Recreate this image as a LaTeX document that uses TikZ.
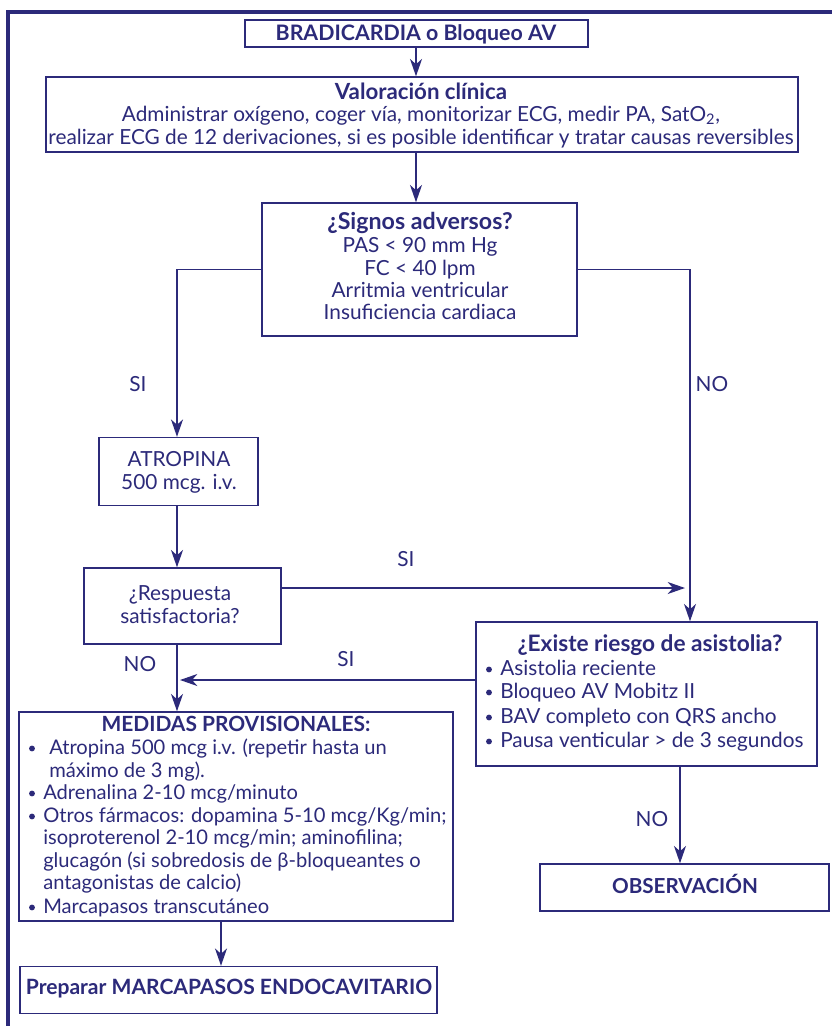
\documentclass[tikz,border=0pt]{standalone}
\usepackage{fontspec}
\setmainfont{Lato}
\usetikzlibrary{arrows.meta}
\definecolor{navy}{RGB}{44,42,122}
\begin{document}
\begin{tikzpicture}[x=0.75pt,y=-0.75pt,
  box/.style={draw=navy,line width=1.1pt,inner sep=0pt},
  conn/.style={draw=navy,line width=1.3pt,-{Stealth[length=13pt,width=9pt,inset=4pt]}},
  bullet/.style={fill=navy},
  txt/.style={text=navy,inner sep=0pt,anchor=base,font=\fontsize{15.6}{18}\selectfont},
  vtxt/.style={text=navy,inner sep=0pt,anchor=base,font=\fontsize{15.6}{18}\selectfont},
  btxt/.style={text=navy,inner sep=0pt,anchor=base,font=\fontsize{#1}{18}\selectfont\bfseries},
  ltxt/.style={text=navy,inner sep=0pt,anchor=base west,font=\fontsize{15.6}{18}\selectfont},
  mtxt/.style={text=navy,inner sep=0pt,anchor=base west,font=\fontsize{15.1}{18}\selectfont}]
\useasboundingbox (0,0) rectangle (832,1026);
\fill[white] (0,0) rectangle (832,1026);
% frame
\draw[navy,line width=2.3pt] (8,1030) -- (8,12) -- (836,12);
% boxes
\node[box,minimum width=257.25pt,minimum height=20.25pt] (brad) at (416.5,33.5) {};
\node[box,minimum width=564pt,minimum height=56.25pt] (val) at (422,114.5) {};
\node[box,minimum width=236.25pt,minimum height=99.75pt] (sig) at (419.5,269.5) {};
\node[box,minimum width=119.25pt,minimum height=51pt] (atr) at (178.5,471.5) {};
\node[box,minimum width=147.75pt,minimum height=57pt] (resp) at (182.5,606) {};
\node[box,minimum width=255.75pt,minimum height=108pt] (exi) at (646.5,694) {};
\node[box,minimum width=325.5pt,minimum height=156.75pt] (med) at (236,816.5) {};
\node[box,minimum width=312.75pt,minimum height=35.25pt] (prep) at (228.5,990) {};
\node[box,minimum width=216.75pt,minimum height=35.25pt] (obs) at (684.5,887.5) {};
% texts (y = baseline)
\node[btxt=16] (tbrad) at (416,40) {BRADICARDIA o Bloqueo AV};
\node[btxt=16.7] (tval1) at (421,99) {Valoración clínica};
\node[vtxt] (tval2) at (421,121) {Administrar oxígeno, coger vía, monitorizar ECG, medir PA, SatO\textsubscript{2},};
\node[vtxt] (tval3) at (421,144) {realizar ECG de 12 derivaciones, si es posible identificar y tratar causas reversibles};
\node[btxt=17.4] (tsig1) at (420,229) {¿Signos adversos?};
\node[txt] (tsig2) at (420,252) {PAS < 90 mm Hg};
\node[txt] (tsig3) at (420,275) {FC < 40 lpm};
\node[txt] (tsig4) at (420,297) {Arritmia ventricular};
\node[txt] (tsig5) at (420,319) {Insuficiencia cardiaca};
\node[txt] (tatr1) at (179,466) {ATROPINA};
\node[txt] (tatr2) at (179,489) {500 mcg. i.v.};
\node[txt] (tresp1) at (180,600) {¿Respuesta};
\node[txt] (tresp2) at (180,623) {satisfactoria?};
\node[btxt=17] (texi0) at (650,651) {¿Existe riesgo de asistolia?};
\node[ltxt] (texi1) at (500,675) {Asistolia reciente};
\node[ltxt] (texi2) at (500,698) {Bloqueo AV Mobitz II};
\node[ltxt] (texi3) at (500,723) {BAV completo con QRS ancho};
\node[ltxt] (texi4) at (500,747) {Pausa venticular > de 3 segundos};
\foreach \y in {675,698,723,747} \fill[bullet] (489,\y-5.5) circle (2.2pt);
\node[btxt=15.7] (tmed0) at (236,731) {MEDIDAS PROVISIONALES:};
\node[mtxt] (tmed1) at (49,754) {Atropina 500 mcg i.v. (repetir hasta un};
\node[mtxt] (tmed1b) at (49,777) {máximo de 3 mg).};
\node[mtxt] (tmed2) at (43,799) {Adrenalina 2-10 mcg/minuto};
\node[mtxt] (tmed3) at (43,822) {Otros fármacos: dopamina 5-10 mcg/Kg/min;};
\node[mtxt] (tmed3b) at (43,844) {isoproterenol 2-10 mcg/min; aminofilina;};
\node[mtxt] (tmed3c) at (43,867) {glucagón (si sobredosis de β-bloqueantes o};
\node[mtxt] (tmed3d) at (43,889) {antagonistas de calcio)};
\node[mtxt] (tmed4) at (43,913) {Marcapasos transcutáneo};
\foreach \y in {754,799,822,913} \fill[bullet] (32,\y-5.5) circle (2.2pt);
\node[btxt=15.8] (tprep) at (229,994) {Preparar MARCAPASOS ENDOCAVITARIO};
\node[btxt=15.5] (tobs) at (685,893) {OBSERVACIÓN};
% labels
\node[txt] (lsi1) at (138,391) {SI};
\node[txt] (lno1) at (712,391) {NO};
\node[txt] (lsi2) at (406,566) {SI};
\node[txt] (lsi3) at (346,666) {SI};
\node[txt] (lno2) at (140,671) {NO};
\node[txt] (lno3) at (652,826) {NO};
% helper coordinates
\coordinate (xr) at (690,0);
\coordinate (xl) at (177,0);
\coordinate (ysi) at (0,588);
\coordinate (siend) at (685,588);
\coordinate (yexi) at (0,680);
\coordinate (exiend) at (180,680);
\coordinate (xp) at (221,0);
\coordinate (xo) at (680,0);
\coordinate (xa) at (416,0);
% connectors
\draw[conn] (brad.south -| xa) -- (val.north -| xa);
\draw[conn] (val.south -| xa) -- (sig.north -| xa);
\draw[conn] (sig.west) -| (atr.north -| xl);
\draw[conn] (sig.east) -| (exi.north -| xr);
\draw[conn] (atr.south -| xl) -- (resp.north -| xl);
\draw[conn] (resp.east |- ysi) -- (siend);
\draw[conn] (resp.south -| xl) -- (med.north -| xl);
\draw[conn] (exi.west |- yexi) -- (exiend);
\draw[conn] (med.south -| xp) -- (prep.north -| xp);
\draw[conn] (exi.south -| xo) -- (obs.north -| xo);
\end{tikzpicture}
\end{document}
